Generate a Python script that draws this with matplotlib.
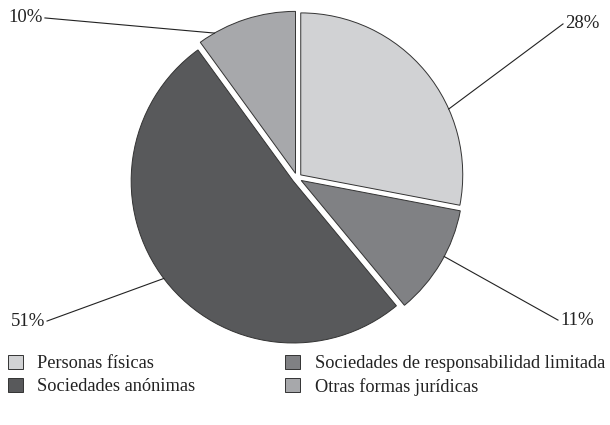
import numpy as np
import matplotlib
matplotlib.use("Agg")
import matplotlib.pyplot as plt
from matplotlib.patches import Patch

# ------------------------------------------------------------
# Data
# ------------------------------------------------------------
categories = ["Personas físicas", "Sociedades de responsabilidad limitada",
              "Sociedades anónimas", "Otras formas jurídicas"]
shares = [28, 11, 51, 10]
pct_labels = ["28%", "11%", "51%", "10%"]

colors = ["#d1d2d4", "#808184", "#58595b", "#a7a8ab"]

# leader line layout: angle on wedge edge (deg) and label anchor (data units)
anchor_angles = [24, -28, -143, 120]
label_pos = [(1.642, 0.951), (1.611, -0.877), (-1.543, -0.883), (-1.556, 0.988)]

plt.rcParams["font.family"] = ["Liberation Serif", "DejaVu Serif"]

W, H, DPI = 610, 425, 100
fig = plt.figure(figsize=(W / DPI, H / DPI), dpi=DPI)
ax = fig.add_axes([0, 0, 1, 1])

scale = 162.0          # px per unit radius
cx, cy = 297.0, 178.0  # pie centre in px (from top-left)

wedges, _ = ax.pie(shares, colors=colors, startangle=90, counterclock=False,
                   explode=[0.03] * 4, radius=1.0,
                   wedgeprops=dict(edgecolor="#333333", linewidth=0.7))
ax.set_xlim(-cx / scale, (W - cx) / scale)
ax.set_ylim(-(H - cy) / scale, cy / scale)
ax.set_aspect("auto")
ax.axis("off")

for w, ang, (tx, ty), lab in zip(wedges, anchor_angles, label_pos, pct_labels):
    wx, wy = w.center
    th = np.deg2rad(ang)
    px, py = wx + np.cos(th), wy + np.sin(th)
    ax.plot([px, tx], [py, ty], color="#222222", lw=0.8)
    ha = "left" if tx > 0 else "right"
    ax.text(tx + (0.012 if tx > 0 else -0.012), ty, lab, ha=ha, va="center",
            fontsize=13.5, color="#222222")

# legend, row-wise order for a 2-column column-major legend
order = [0, 2, 1, 3]
handles = [Patch(facecolor=colors[i], edgecolor="#333333", linewidth=0.7,
                 label=categories[i]) for i in order]
fig.legend(handles=handles, loc="upper left", ncol=2,
           bbox_to_anchor=(8 / W, 1 - 355 / H), frameon=False,
           fontsize=13.2, handlelength=0.8, handleheight=0.8,
           handletextpad=0.8, columnspacing=4.9, labelspacing=0.3,
           borderpad=0, borderaxespad=0, labelcolor="#222222")

fig.savefig("out.png", dpi=DPI)
